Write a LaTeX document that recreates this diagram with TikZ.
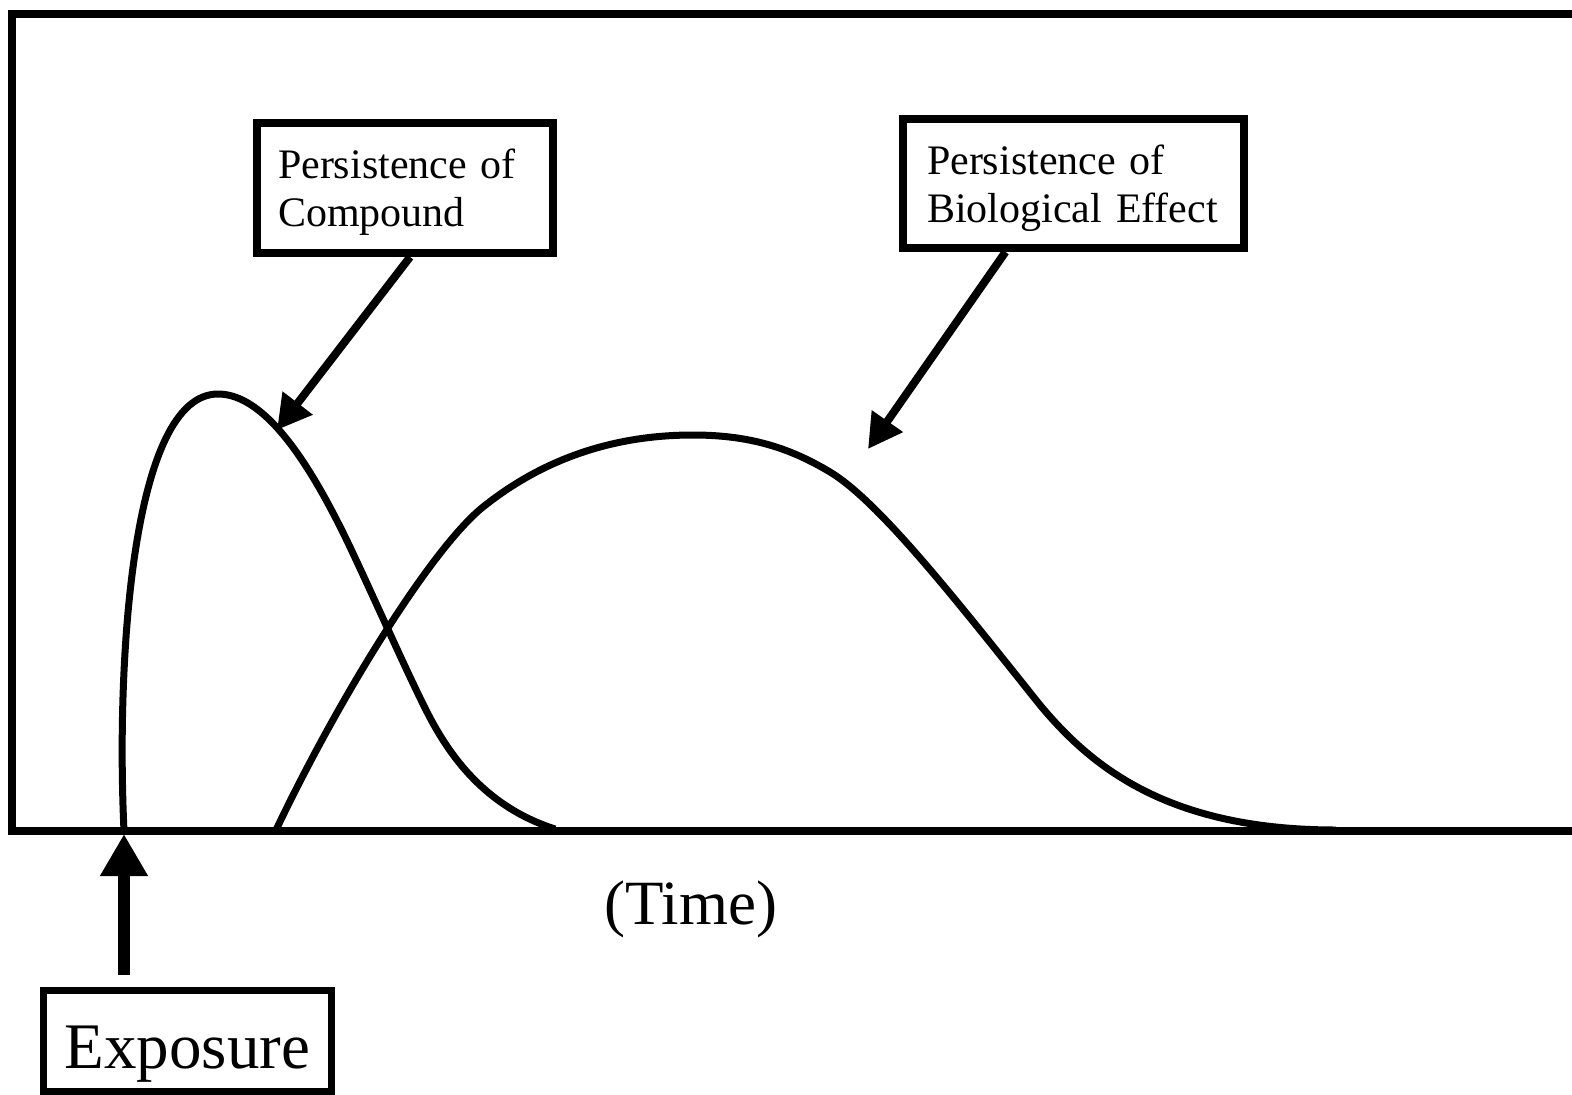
\documentclass[tikz,border=0pt]{standalone}
\usepackage{fontspec}
\setmainfont{Liberation Serif}
\usetikzlibrary{arrows.meta,calc}
\begin{document}
\begin{tikzpicture}[x=1pt,y=-1pt,
  curve/.style={line width=7pt, line join=round},
  labelbox/.style={draw, line width=8pt, align=left, inner sep=0pt,
    font=\fontsize{42pt}{48pt}\selectfont},
  pointer/.style={line width=8pt, -{Triangle[length=34pt,width=36pt]}},
]
\useasboundingbox (0,0) rectangle (1572,1095);

% frame and time axis
\draw[line width=8pt] (1572,14) -- (12,14) -- (12,831) -- (1572,831);

% persistence of the compound
\draw[curve] (124,831) .. controls (116,660) and (132,394) .. (218,394)
  .. controls (265,394) and (310,463) .. (350,547)
  .. controls (375,600) and (405,668) .. (425,708)
  .. controls (445,748) and (480,805) .. (555,829);

% persistence of the biological effect
\draw[curve] (276,830) .. controls (341,693.5) and (433,547) .. (483,507)
  .. controls (543,459) and (613,435) .. (693,435)
  .. controls (750,435) and (790,448) .. (830,472)
  .. controls (880,502) and (960,605) .. (1040,705)
  .. controls (1090,765) and (1166,830) .. (1336,830);

% labels
\node[labelbox, minimum width=296pt, minimum height=130pt, text width=254pt,
      text height=34pt, text depth=54pt] (cmp) at (405,188)
      {Persistence of\\Compound};
\node[labelbox, minimum width=341pt, minimum height=129pt, text width=293pt,
      text height=34pt, text depth=53pt] (bio) at (1073.5,183.5)
      {Persistence of\\Biological Effect};
\node[draw, line width=7pt, minimum width=288pt, minimum height=101pt, inner sep=0pt,
      text height=70pt, text depth=16pt, font=\fontsize{65pt}{70pt}\selectfont]
      (exp) at (187.5,1041) {Exposure};
\node[font=\fontsize{63pt}{70pt}\selectfont, anchor=base] (time) at (691,924) {(Time)};

% pointers
\coordinate (cmptip) at (277,430);
\coordinate (biotip) at (868,449);
\coordinate (onset) at (124,834);
\draw[pointer] ([xshift=5pt]cmp.south) -- (cmptip);
\draw[pointer] ($(bio.south west)!0.305!(bio.south east)$) -- (biotip);
\draw[line width=12pt, -{Triangle[length=42pt,width=45pt]}, shorten <=12pt]
  ([xshift=-63.5pt]exp.north) -- (onset);
\end{tikzpicture}
\end{document}
